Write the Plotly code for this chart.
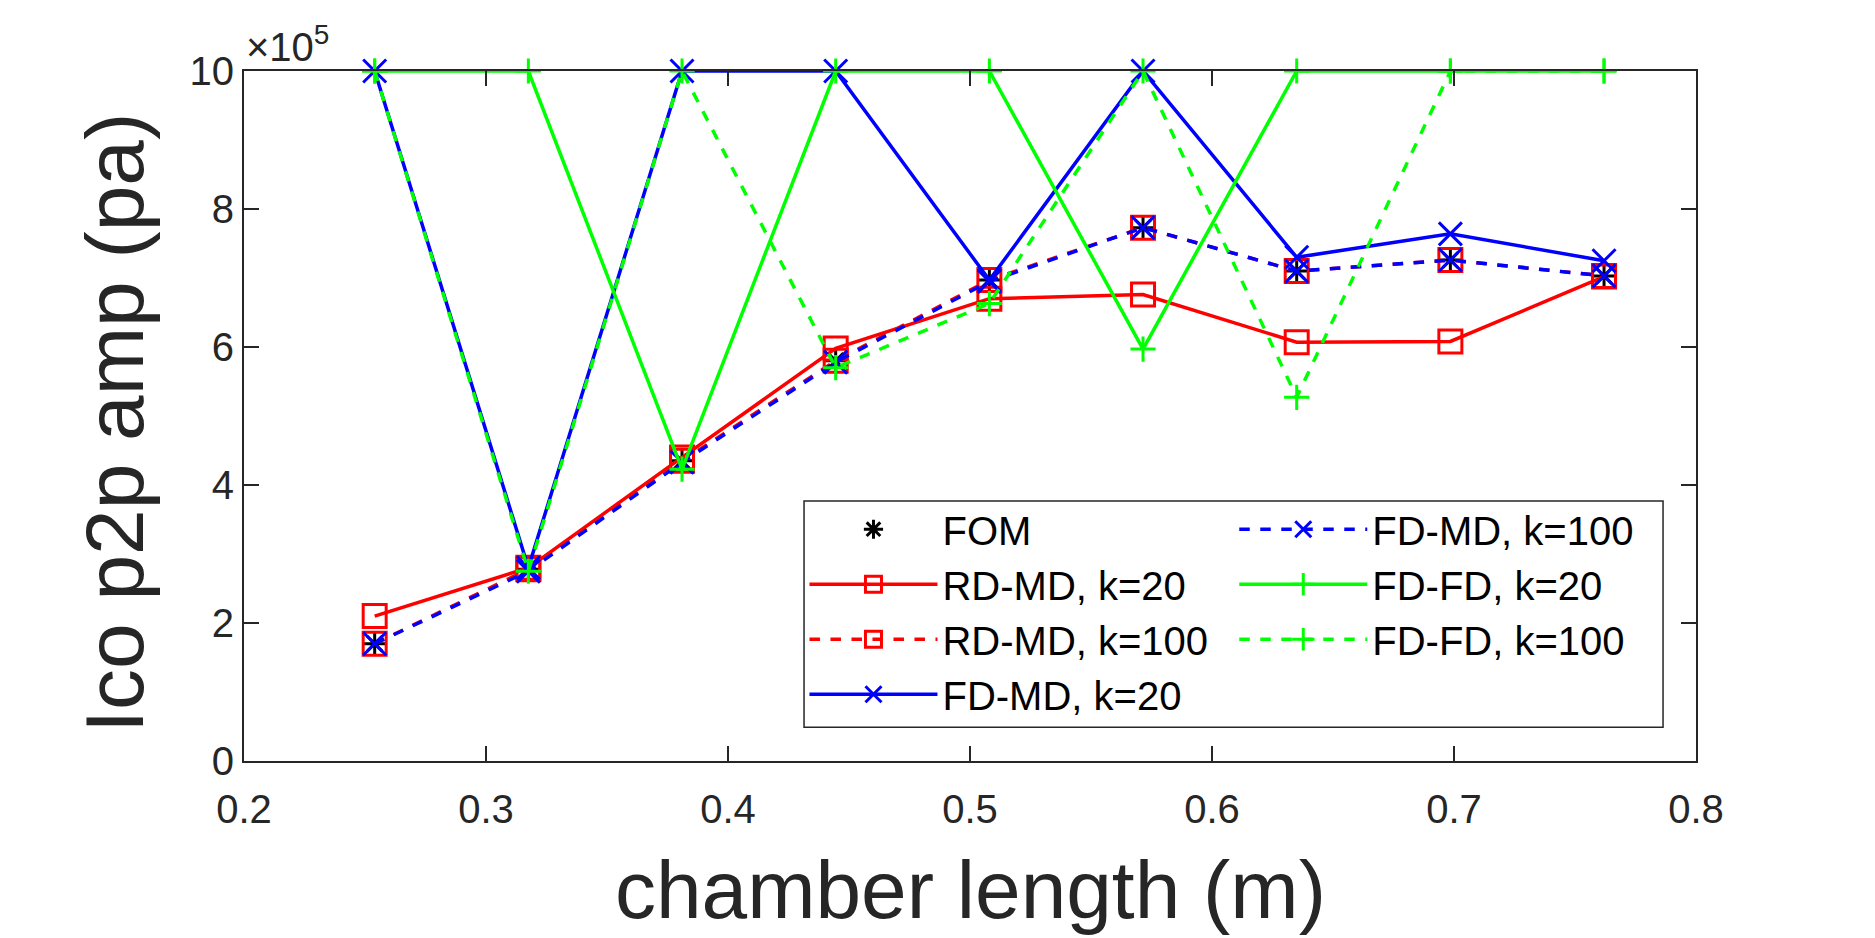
import plotly.graph_objects as go

# chamber lengths (m)
chamber_length = [0.254, 0.3175, 0.381, 0.4445, 0.508, 0.5715, 0.635, 0.6985, 0.762]

# Ico p2p amplitude, in units of 1e5 pa (values at 10 sit on the axis limit)
fom = [1.70, 2.78, 4.35, 5.80, 6.97, 7.73, 7.10, 7.26, 7.03]
rdmd_k20 = [2.10, 2.80, 4.40, 5.98, 6.70, 6.76, 6.07, 6.08, 7.02]
rdmd_k100 = [1.70, 2.78, 4.35, 5.80, 6.97, 7.73, 7.10, 7.26, 7.03]
fdmd_k20 = [10.0, 2.80, 10.0, 10.0, 6.97, 10.0, 7.30, 7.64, 7.25]
fdmd_k100 = [1.70, 2.75, 4.33, 5.78, 6.95, 7.73, 7.10, 7.26, 7.03]
fdfd_k20 = [10.0, 10.0, 4.23, 10.0, 10.0, 5.97, 10.0, 10.0, 10.0]
fdfd_k100 = [10.0, 2.75, 10.0, 5.70, 6.63, 10.0, 5.27, 10.0, 10.0]

y_ticks = [0, 2, 4, 6, 8, 10]

FONT = "Liberation Sans, Arial, Helvetica, sans-serif"
AXIS_COLOR = "#262626"
RED = "#FF0000"
BLUE = "#0000FF"
GREEN = "#00FF00"
LW = 3.5

fig = go.Figure()

def add_series(y, name, color, dash, symbol, size, legend):
    fig.add_trace(go.Scatter(
        x=chamber_length,
        y=y,
        name=name,
        mode="lines+markers" if dash else "markers",
        line=dict(color=color, width=LW, dash=dash or "solid"),
        marker=dict(symbol=symbol, size=size, color=color,
                    line=dict(color=color, width=3)),
        cliponaxis=False,
        legend=legend,
    ))

add_series(fom, "FOM", "#000000", None, "asterisk-open", 18, "legend")
add_series(rdmd_k20, "RD-MD, k=20", RED, "solid", "square-open", 23, "legend")
add_series(rdmd_k100, "RD-MD, k=100", RED, "dash", "square-open", 23, "legend")
add_series(fdmd_k20, "FD-MD, k=20", BLUE, "solid", "x-thin-open", 23, "legend")
add_series(fdmd_k100, "FD-MD, k=100", BLUE, "dash", "x-thin-open", 23, "legend2")
add_series(fdfd_k20, "FD-FD, k=20", GREEN, "solid", "cross-thin-open", 18, "legend2")
add_series(fdfd_k100, "FD-FD, k=100", GREEN, "dash", "cross-thin-open", 18, "legend2")

axis_common = dict(
    showline=True, linecolor=AXIS_COLOR, linewidth=2,
    mirror="ticks", ticks="inside", ticklen=15, tickwidth=2, tickcolor=AXIS_COLOR,
    showgrid=False, zeroline=False,
    tickfont=dict(family=FONT, size=40, color=AXIS_COLOR),
)

legend_common = dict(
    bgcolor="rgba(0,0,0,0)", borderwidth=0,
    font=dict(family=FONT, size=40, color="#000000"),
    itemwidth=128, tracegroupgap=0,
    xanchor="left", yanchor="top", y=0.383,
    itemclick=False, itemdoubleclick=False,
)

# the page puts the figure 8px in from the top-left corner, margins allow for it
fig.update_layout(
    width=1875, height=938,
    margin=dict(l=236, r=187, t=63, b=185),
    paper_bgcolor="white", plot_bgcolor="white",
    font=dict(family=FONT, color=AXIS_COLOR),
    xaxis=dict(range=[0.2, 0.8], dtick=0.1, tickformat=".1f",
               ticklabelstandoff=12, **axis_common),
    yaxis=dict(range=[0, 10], tickvals=y_ticks, **axis_common),
    legend=dict(x=0.386, **legend_common),
    legend2=dict(x=0.682, **legend_common),
    shapes=[dict(
        type="rect", xref="paper", yref="paper",
        x0=0.3857, x1=0.9773, y0=0.049, y1=0.3768,
        fillcolor="white", line=dict(color=AXIS_COLOR, width=1.5),
        layer="above",
    )],
    annotations=[
        dict(text="chamber length (m)", xref="paper", yref="paper",
             x=0.5, y=-0.186, xanchor="center", yanchor="middle", showarrow=False,
             font=dict(family=FONT, size=82, color=AXIS_COLOR)),
        dict(text="Ico p2p amp (pa)", xref="paper", yref="paper",
             x=-0.089, y=0.49, xanchor="center", yanchor="middle", showarrow=False,
             textangle=-90, font=dict(family=FONT, size=82, color=AXIS_COLOR)),
        dict(text="×10<sup>5</sup>", xref="paper", yref="paper",
             x=0.0, y=1.0, xanchor="left", yanchor="bottom", showarrow=False,
             font=dict(family=FONT, size=40, color=AXIS_COLOR)),
    ],
)

fig.write_html("out.html")
